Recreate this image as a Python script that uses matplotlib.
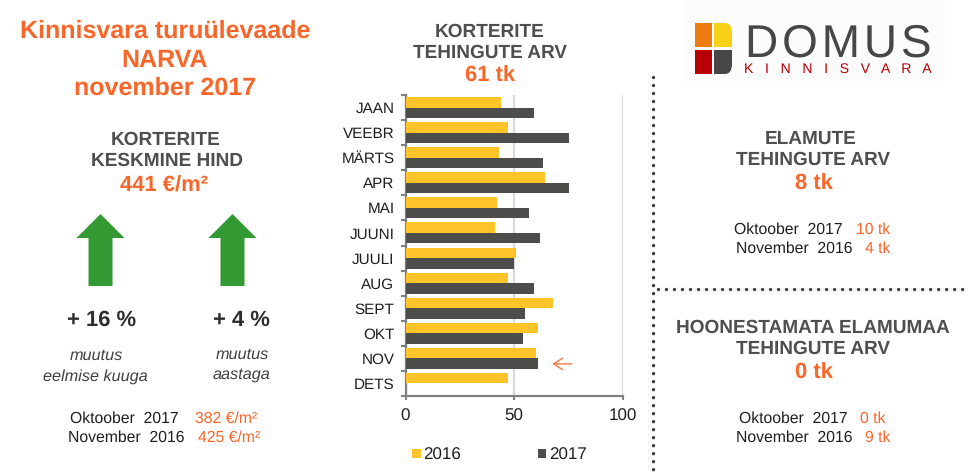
import matplotlib
matplotlib.use('Agg')
import matplotlib.pyplot as plt
from matplotlib.patches import Polygon, Rectangle, PathPatch
from matplotlib.path import Path
from matplotlib.lines import Line2D
import numpy as np

plt.rcParams['font.family'] = ['Liberation Sans', 'DejaVu Sans']
plt.rcParams['text.hinting'] = 'none'

months = ['JAAN','VEEBR','MÄRTS','APR','MAI','JUUNI','JUULI','AUG','SEPT','OKT','NOV','DETS']
v2016 = [44,47,43,64,42,41,51,47,68,61,60,47]
v2017 = [59,75,63,75,57,62,50,59,55,54,61,np.nan]
xticks = [0,50,100]

W,H = 969,475
ORANGE='#F9662A'; HEAD='#4F4F4F'; BLACK='#1F1F1F'; YEL='#FFC42A'; DARK='#4D4D4B'; GREY='#808080'; GREEN='#339933'

fig = plt.figure(figsize=(W/100,H/100),dpi=100,facecolor='white')
bg = fig.add_axes([0,0,1,1]); bg.set_xlim(0,W); bg.set_ylim(H,0); bg.axis('off')

def px(s): return s*0.72
def T(x,y,s,size,color=BLACK,weight='normal',style='normal',ha='center',**k):
    bg.text(x,y,s,fontsize=px(size),color=color,fontweight=weight,fontstyle=style,ha=ha,va='center_baseline',**k)

# Left column
T(165,29,'Kinnisvara turuülevaade',25,ORANGE,'bold')
T(165,58,'NARVA',25,ORANGE,'bold')
T(165,86,'november 2017',25,ORANGE,'bold')
T(165.5,138,'KORTERITE',19,HEAD,'bold')
T(167.5,159,'KESKMINE HIND',19,HEAD,'bold')
T(164,184,'441 €/m²',22,ORANGE,'bold')

for cx in (100.5,232.5):
    bg.add_patch(Polygon([(cx,214),(cx+24,238),(cx+12,238),(cx+12,286),(cx-12,286),(cx-12,238),(cx-24,238)],closed=True,fc=GREEN,ec='none'))

T(101.5,318,'+ 16 %',22,'#2E2E2E','bold')
T(241.5,318,'+ 4 %',22,'#2E2E2E','bold')
T(96,354,'muutus',16.3,'#404040',style='italic')
T(95.5,375,'eelmise kuuga',16.3,'#404040',style='italic')
T(242,353,'muutus',16.3,'#404040',style='italic')
T(241.5,373,'aastaga',16.3,'#404040',style='italic')

def pair(x1,x2,y,label,val):
    T(x1,y,label,15.8,BLACK,ha='right')
    T(x2,y,val,15.8,ORANGE,ha='right')
pair(179,257,417,'Oktoober  2017','382 €/m²')
pair(185,260,436,'November  2016','425 €/m²')

# Middle header
T(490,30,'KORTERITE',19,HEAD,'bold')
T(490,51,'TEHINGUTE ARV',19,HEAD,'bold')
T(490,74,'61 tk',22,ORANGE,'bold')

# Chart
L,R,TOP,B = 405.5,623,95,396
ax = fig.add_axes([L/W,1-B/H,(R-L)/W,(B-TOP)/H],facecolor='none')
y = np.arange(len(months))
h = 0.42
ax.barh(y-h/2,v2016,height=h,color=YEL,label='2016',zorder=3)
ax.barh(y+h/2,v2017,height=h,color=DARK,label='2017',zorder=3)
ax.set_xlim(0,100); ax.set_ylim(len(months)-0.5,-0.5)
ax.set_xticks(xticks); ax.set_xticklabels([str(t) for t in xticks],fontsize=px(17),color=BLACK)
ax.set_yticks(y); ax.set_yticklabels(months,fontsize=px(15.2),color=BLACK)
ax.set_yticks(np.arange(len(months)+1)-0.5,minor=True)
ax.tick_params(axis='y',which='major',length=0,pad=8)
ax.tick_params(axis='y',which='minor',length=3.5,width=1.5,color=GREY)
ax.tick_params(axis='x',length=3,width=1.5,color=GREY,pad=6)
ax.grid(axis='x',color='#D9D9D9',lw=1.6,zorder=0); ax.set_axisbelow(True)
for s in ('top','right'): ax.spines[s].set_visible(False)
for s in ('left','bottom'):
    ax.spines[s].set_color(GREY); ax.spines[s].set_linewidth(1.6)
ax.annotate('',xy=(67.5,10.22),xytext=(76.5,10.22),
            arrowprops=dict(arrowstyle='->,head_length=0.5,head_width=0.32',color='#F4794A',lw=1,mutation_scale=13,shrinkA=0,shrinkB=0),zorder=5)

hs,ls = ax.get_legend_handles_labels()
bg.legend(hs,ls,loc='center left',bbox_to_anchor=(397,455),bbox_transform=bg.transData,ncol=2,frameon=False,
          fontsize=px(17),handlelength=0.5,handleheight=0.5,handletextpad=0.15,columnspacing=4.5,labelcolor=BLACK)

# Right column
T(811,137,'ELAMUTE',19,HEAD,'bold')
T(813,158,'TEHINGUTE ARV',19,HEAD,'bold')
T(813.5,182,'8 tk',22,ORANGE,'bold')
pair(843,890,228,'Oktoober  2017','10 tk')
pair(853,890,247,'November  2016','4 tk')
T(813,326,'HOONESTAMATA ELAMUMAA',19,HEAD,'bold')
T(813,347,'TEHINGUTE ARV',19,HEAD,'bold')
T(813.5,371,'0 tk',22,ORANGE,'bold')
pair(848,885,417,'Oktoober  2017','0 tk')
pair(853,890,436,'November  2016','9 tk')

# Dotted separators
dot = dict(color='#404040',lw=2.5,ls=(0,(0.001,2.304)),dash_capstyle='round')
bg.add_line(Line2D([653.5,653.5],[77,475],**dot))
bg.add_line(Line2D([658,969],[289,289],**dot))

# Logo
bg.add_patch(Rectangle((682,0),263,81,fc='#FCFCFC',ec='none'))
bg.add_patch(Rectangle((695,23),17,24,fc='#EE7B11',ec='none'))
bg.add_patch(PathPatch(Path([(714,23),(725,23),(732,23),(732,33),(732,47),(714,47),(714,23)],
    [Path.MOVETO,Path.LINETO,Path.CURVE3,Path.CURVE3,Path.LINETO,Path.LINETO,Path.CLOSEPOLY]),fc='#F7D116',ec='none'))
bg.add_patch(Rectangle((695,50),17,24,fc='#B60005',ec='none'))
bg.add_patch(PathPatch(Path([(714,50),(732,50),(732,64),(732,74),(725,74),(714,74),(714,50)],
    [Path.MOVETO,Path.LINETO,Path.LINETO,Path.CURVE3,Path.CURVE3,Path.LINETO,Path.CLOSEPOLY]),fc='#474747',ec='none'))
bg.text(838,57,'D\u200aO\u200aM\u200aU\u200aS',fontsize=px(46),color='#474747',ha='center',va='baseline')
bg.text(838,73,'K   I   N   N   I   S   V   A   R   A',fontsize=px(14),color='#B60005',ha='center',va='baseline')

fig.savefig('out.png',dpi=100)
